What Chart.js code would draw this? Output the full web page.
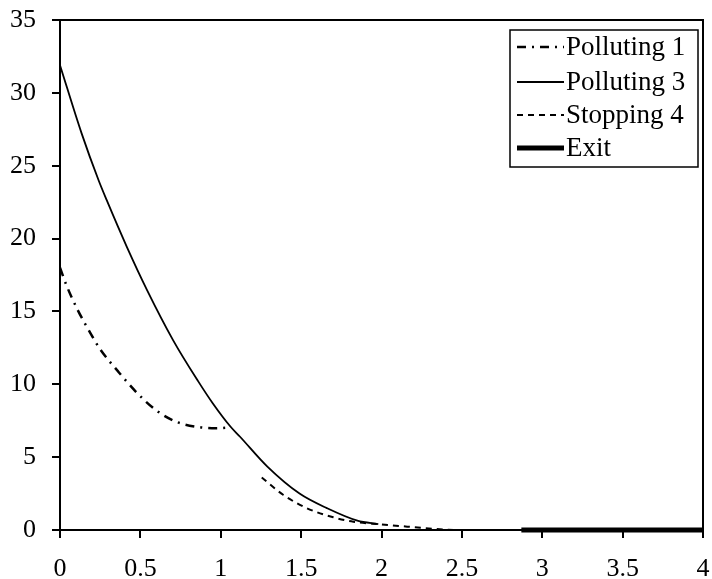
<!DOCTYPE html>
<html>
<head>
<meta charset="utf-8">
<script src="https://cdn.jsdelivr.net/npm/chart.js@4"></script>
<style>
  html, body { margin: 0; padding: 0; background: #fff; }
  canvas { display: block; }
</style>
</head>
<body>
<canvas id="chart" width="712" height="579"></canvas>
<script>
// series
const polluting1X = [0, 0.04, 0.11, 0.19, 0.25, 0.36, 0.48, 0.60, 0.73, 0.87, 0.97, 1.06];
const polluting1Y = [18.0, 16.8, 15.1, 13.5, 12.4, 10.9, 9.4, 8.2, 7.4, 7.05, 6.98, 7.05];

const polluting3X = [0, 0.135, 0.24, 0.29, 0.415, 0.54, 0.705, 0.86, 0.95, 1.06, 1.12, 1.29, 1.49, 1.66, 1.85, 1.98];
const polluting3Y = [31.9, 27.2, 24.0, 22.65, 19.45, 16.5, 13.0, 10.2, 8.7, 7.1, 6.4, 4.35, 2.5, 1.5, 0.64, 0.41];

const stopping4X = [1.255, 1.39, 1.535, 1.70, 1.825, 1.99, 2.16, 2.34, 2.45];
const stopping4Y = [3.6, 2.4, 1.5, 0.87, 0.57, 0.39, 0.23, 0.07, 0.0];

const exitX = [2.87, 4];
const exitY = [0, 0];

const seriesLabels = ['Polluting 1', 'Polluting 3', 'Stopping 4', 'Exit'];

function toPoints(xs, ys) {
  return xs.map((x, i) => ({ x: x, y: ys[i] }));
}

const FONT = "'Liberation Serif', 'Times New Roman', serif";

// frame around the plot and the boxed legend
const framePlugin = {
  id: 'frame',
  afterDraw(chart) {
    const { ctx, chartArea } = chart;
    ctx.save();
    ctx.strokeStyle = '#000';
    ctx.lineWidth = 2;
    ctx.setLineDash([]);
    ctx.strokeRect(chartArea.left, chartArea.top, chartArea.right - chartArea.left, chartArea.bottom - chartArea.top);

    // legend
    const box = { left: 510, top: 30, right: 698, bottom: 167 };
    ctx.fillStyle = '#fff';
    ctx.fillRect(box.left, box.top, box.right - box.left, box.bottom - box.top);
    ctx.lineWidth = 1.5;
    ctx.strokeRect(box.left, box.top, box.right - box.left, box.bottom - box.top);

    const rowY = [47, 82, 115, 148];
    ctx.font = '27px ' + FONT;
    ctx.textBaseline = 'middle';
    chart.data.datasets.forEach((ds, i) => {
      const y = rowY[i];
      ctx.beginPath();
      ctx.strokeStyle = ds.borderColor;
      ctx.lineWidth = ds.borderWidth;
      ctx.setLineDash(ds.borderDash || []);
      ctx.moveTo(517, y);
      ctx.lineTo(564, y);
      ctx.stroke();
      ctx.setLineDash([]);
      ctx.fillStyle = '#000';
      ctx.fillText(ds.label, 566, y + 1);
    });
    ctx.restore();
  }
};

new Chart(document.getElementById('chart'), {
  type: 'line',
  data: {
    datasets: [{
      label: seriesLabels[0],
      data: toPoints(polluting1X, polluting1Y),
      borderColor: '#000',
      borderWidth: 2.5,
      borderDash: [9, 6, 2, 6],
      pointRadius: 0,
      cubicInterpolationMode: 'monotone'
    }, {
      label: seriesLabels[1],
      data: toPoints(polluting3X, polluting3Y),
      borderColor: '#000',
      borderWidth: 1.8,
      pointRadius: 0,
      cubicInterpolationMode: 'monotone'
    }, {
      label: seriesLabels[2],
      data: toPoints(stopping4X, stopping4Y),
      borderColor: '#000',
      borderWidth: 2,
      borderDash: [6, 5],
      pointRadius: 0,
      cubicInterpolationMode: 'monotone'
    }, {
      label: seriesLabels[3],
      data: toPoints(exitX, exitY),
      borderColor: '#000',
      borderWidth: 5,
      pointRadius: 0,
      clip: false
    }]
  },
  options: {
    responsive: false,
    animation: false,
    layout: { padding: { left: 0, right: 9, top: 20, bottom: 0 } },
    scales: {
      x: {
        type: 'linear',
        min: 0,
        max: 4,
        ticks: {
          stepSize: 0.5,
          color: '#000',
          padding: 16,
          maxRotation: 0,
          font: { family: FONT, size: 26 },
          callback: (value) => String(value)
        },
        grid: { drawOnChartArea: false, drawTicks: true, tickLength: 8, color: '#000', lineWidth: 2 },
        border: { color: '#000', width: 2 },
        afterFit(scale) {
          scale.height = 49;
          scale.paddingLeft = 0;
          scale.paddingRight = 0;
        }
      },
      y: {
        min: 0,
        max: 35,
        ticks: {
          stepSize: 5,
          color: '#000',
          padding: 16,
          font: { family: FONT, size: 26 }
        },
        grid: { drawOnChartArea: false, drawTicks: true, tickLength: 8, color: '#000', lineWidth: 2 },
        border: { color: '#000', width: 2 },
        afterFit(scale) {
          scale.width = 60;
          scale.paddingTop = 0;
          scale.paddingBottom = 0;
        }
      }
    },
    plugins: {
      legend: { display: false },
      tooltip: { enabled: false }
    }
  },
  plugins: [framePlugin]
});
</script>
</body>
</html>
